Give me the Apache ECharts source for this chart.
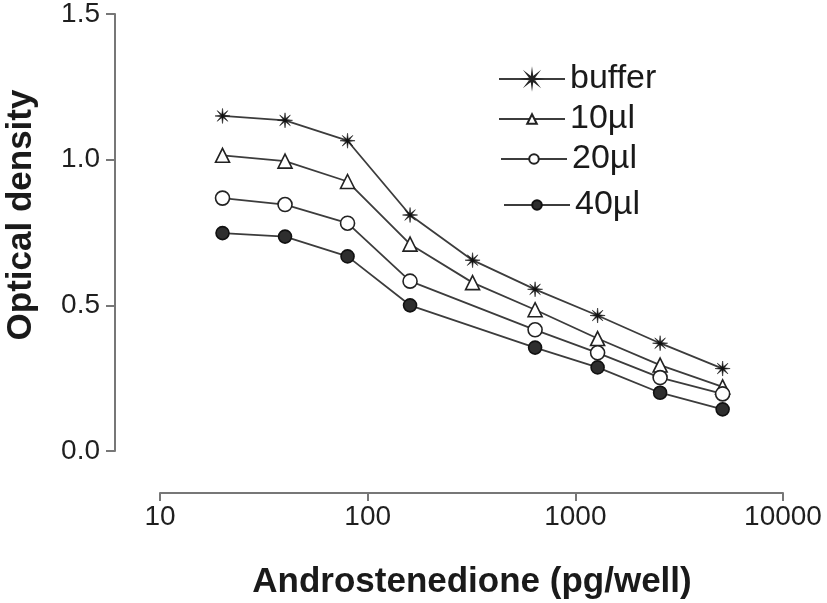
<!DOCTYPE html>
<html>
<head>
<meta charset="utf-8">
<script src="https://cdn.jsdelivr.net/npm/echarts@6/dist/echarts.min.js"></script>
<style>
html,body{margin:0;padding:0;background:#fff;}
#chart{width:827px;height:603px;}
</style>
</head>
<body>
<div id="chart"></div>
<script>
// ---- data ----
var concentrations = [20, 40, 80, 160, 320, 640, 1280, 2560, 5120];
var seriesNames = ['buffer', '10\u00b5l', '20\u00b5l', '40\u00b5l'];
var bufferOD = [1.150, 1.135, 1.065, 0.810, 0.655, 0.555, 0.465, 0.370, 0.283];
var ul10OD   = [1.015, 0.995, 0.925, 0.710, 0.578, 0.485, 0.386, 0.295, 0.220];
var ul20OD   = [0.868, 0.846, 0.782, 0.583, null, 0.416, 0.337, 0.252, 0.196];
var ul40OD   = [0.748, 0.736, 0.668, 0.500, null, 0.355, 0.287, 0.200, 0.143];
var yTickLabels = ['0.0', '0.5', '1.0', '1.5'];
var xTickLabels = ['10', '100', '1000', '10000'];
var xTitle = 'Androstenedione (pg/well)';
var yTitle = 'Optical density';

function pairs(vals) {
  var out = [];
  for (var i = 0; i < concentrations.length; i++) {
    if (vals[i] !== null) out.push([concentrations[i], vals[i]]);
  }
  return out;
}

var FONT = '"Liberation Sans", Arial, Helvetica, sans-serif';
var LINE = '#3c3c3c';
var starPath = 'path://M20,10L12.31,10.96L17.07,17.07L10.96,12.31L10,20L9.04,12.31L2.93,17.07L7.69,10.96L0,10L7.69,9.04L2.93,2.93L9.04,7.69L10,0L10.96,7.69L17.07,2.93L12.31,9.04Z';

var styles = [
  {symbol: starPath, size: 15, fill: '#111', stroke: '#222'},
  {symbol: 'triangle', size: 14, fill: '#fff', stroke: '#222'},
  {symbol: 'circle', size: 14, fill: '#fff', stroke: '#222'},
  {symbol: 'circle', size: 13, fill: '#2e2e2e', stroke: '#111'}
];
var allData = [bufferOD, ul10OD, ul20OD, ul40OD];

var series = seriesNames.map(function (name, i) {
  var s = styles[i];
  return {
    name: name,
    type: 'line',
    data: pairs(allData[i]),
    symbol: s.symbol,
    symbolSize: s.size,
    showAllSymbol: true,
    lineStyle: {color: LINE, width: 1.8},
    itemStyle: {color: s.fill, borderColor: s.stroke, borderWidth: i === 0 ? 0.6 : 1.6},
    emphasis: {disabled: true},
    animation: false,
    z: 2 + i
  };
});

var legendTops = [61, 101, 141, 187];
var legendLefts = [498, 498, 500, 503];
var legends = seriesNames.map(function (name, i) {
  return {
    data: [name],
    left: legendLefts[i],
    top: legendTops[i],
    orient: 'horizontal',
    padding: 0,
    itemWidth: 66,
    itemHeight: 12,
    selectedMode: false,
    textStyle: {fontFamily: FONT, fontSize: 34, color: '#1a1a1a', lineHeight: 36}
  };
});

var chart = echarts.init(document.getElementById('chart'), null, {renderer: 'canvas'});
chart.setOption({
  backgroundColor: '#fff',
  animation: false,
  grid: {left: 160, right: 44, top: 13, bottom: 152, containLabel: false},
  legend: legends,
  xAxis: {
    type: 'log',
    logBase: 10,
    min: 10,
    max: 10000,
    offset: 42,
    axisLine: {show: true, onZero: false, lineStyle: {color: '#777', width: 2}},
    axisTick: {show: true, inside: false, length: 8, lineStyle: {color: '#777', width: 2}},
    splitLine: {show: false},
    minorTick: {show: false},
    axisLabel: {
      margin: 10,
      fontFamily: FONT, fontSize: 28, color: '#1f1f1f',
      formatter: function (v) {
        var e = Math.round(Math.log10(v)) - 1;
        return xTickLabels[e] !== undefined ? xTickLabels[e] : String(v);
      }
    }
  },
  yAxis: {
    type: 'value',
    min: 0,
    max: 1.5,
    interval: 0.5,
    offset: 45,
    axisLine: {show: true, onZero: false, lineStyle: {color: '#777', width: 2}},
    axisTick: {show: true, inside: false, length: 9, lineStyle: {color: '#777', width: 2}},
    splitLine: {show: false},
    axisLabel: {
      margin: 15,
      fontFamily: FONT, fontSize: 28, color: '#1f1f1f',
      formatter: function (v) {
        var idx = Math.round(v / 0.5);
        return yTickLabels[idx] !== undefined ? yTickLabels[idx] : v.toFixed(1);
      }
    }
  },
  graphic: [
    {
      type: 'text',
      x: 472, y: 582,
      style: {text: xTitle, fontFamily: FONT, fontSize: 35, fontWeight: 'bold', fill: '#1a1a1a', align: 'center', verticalAlign: 'middle'}
    },
    {
      type: 'text',
      x: 21, y: 215,
      rotation: Math.PI / 2,
      style: {text: yTitle, fontFamily: FONT, fontSize: 35, fontWeight: 'bold', fill: '#1a1a1a', align: 'center', verticalAlign: 'middle'}
    }
  ],
  series: series
});
</script>
</body>
</html>
